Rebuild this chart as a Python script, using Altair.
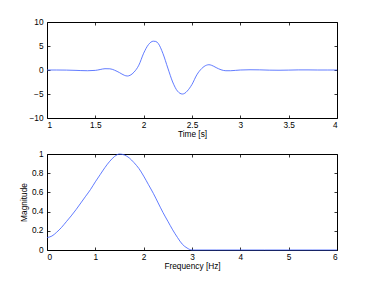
import altair as alt
import pandas as pd

# Top panel: time signal
time_s = [1.0, 1.1, 1.2, 1.3, 1.35, 1.42, 1.5, 1.55, 1.6, 1.65, 1.7, 1.75, 1.8, 1.83,
          1.86, 1.9, 1.95, 2.0, 2.05, 2.1, 2.125, 2.15, 2.2, 2.25, 2.3, 2.35, 2.4,
          2.425, 2.45, 2.5, 2.55, 2.6, 2.65, 2.675, 2.7, 2.75, 2.8, 2.85, 2.9, 2.95,
          3.0, 3.1, 3.2, 3.3, 3.4, 3.5, 3.6, 3.7, 3.8, 3.9, 4.0]
amplitude = [0.0, 0.0, -0.02, -0.08, -0.12, -0.15, -0.08, 0.1, 0.27, 0.25, -0.05, -0.55, -1.1, -1.25,
             -1.1, -0.45, 1.0, 3.5, 5.3, 6.0, 5.95, 5.55, 3.4, 0.4, -2.5, -4.4, -5.0,
             -4.85, -4.4, -3.0, -1.0, 0.3, 1.0, 1.1, 1.0, 0.5, 0.05, -0.15, -0.15, -0.08,
             0.0, 0.05, 0.03, -0.03, -0.05, -0.02, 0.02, 0.02, 0.0, 0.0, 0.0]

# Bottom panel: magnitude spectrum
freq_hz = [0.0, 0.1, 0.2, 0.3, 0.4, 0.5, 0.6, 0.7, 0.8, 0.9, 1.0, 1.1, 1.2, 1.3, 1.4,
           1.5, 1.6, 1.7, 1.8, 1.9, 2.0, 2.1, 2.2, 2.3, 2.4, 2.5, 2.6, 2.7, 2.8, 2.9,
           3.0, 3.5, 4.0, 4.5, 5.0, 5.5, 6.0]
magnitude = [0.13, 0.145, 0.185, 0.235, 0.295, 0.355, 0.42, 0.49, 0.56, 0.63, 0.71, 0.785,
             0.86, 0.925, 0.975, 1.0, 0.99, 0.96, 0.91, 0.85, 0.77, 0.68, 0.59, 0.49, 0.39,
             0.3, 0.21, 0.13, 0.06, 0.02, 0.0, 0.0, 0.0, 0.0, 0.0, 0.0, 0.0]

time_ticks = [1, 1.5, 2, 2.5, 3, 3.5, 4]
amp_ticks = [-10, -5, 0, 5, 10]
freq_ticks = [0, 1, 2, 3, 4, 5, 6]
mag_ticks = [0, 0.2, 0.4, 0.6, 0.8, 1]

FONT = "Liberation Sans"
FS = 8.3
LINE = "#3a5aff"


def panel(df, xf, yf, xdom, ydom, xticks, yticks, xtitle, ytitle):
    xs = alt.Scale(domain=xdom, nice=False, zero=False)
    ys = alt.Scale(domain=ydom, nice=False, zero=False)
    txt = dict(labelFont=FONT, labelFontSize=FS, labelColor="black",
               titleFont=FONT, titleFontSize=FS, titleFontWeight="normal",
               titleColor="black", grid=False, domain=False)
    base = alt.Chart(df)
    main = base.mark_line(color=LINE, strokeWidth=0.8, interpolate="monotone").encode(
        x=alt.X(f"{xf}:Q", scale=xs,
                axis=alt.Axis(orient="bottom", values=xticks, format="~r", ticks=False,
                              labelPadding=2, title=xtitle, titlePadding=1, **txt)),
        y=alt.Y(f"{yf}:Q", scale=ys,
                axis=alt.Axis(orient="left", values=yticks, format="~r", ticks=False,
                              labelPadding=4, title=ytitle, titlePadding=3, **txt)),
    )
    tick_kw = dict(labels=False, ticks=True, tickSize=3, offset=-3, tickColor="black",
                   tickWidth=0.8, title="", grid=False, domain=False)
    inner1 = base.mark_line(strokeOpacity=0).encode(
        x=alt.X(f"{xf}:Q", scale=xs, axis=alt.Axis(orient="bottom", values=xticks, **tick_kw)),
        y=alt.Y(f"{yf}:Q", scale=ys, axis=alt.Axis(orient="left", values=yticks, **tick_kw)),
    )
    inner2 = base.mark_line(strokeOpacity=0).encode(
        x=alt.X(f"{xf}:Q", scale=xs, axis=alt.Axis(orient="top", values=xticks, **tick_kw)),
        y=alt.Y(f"{yf}:Q", scale=ys, axis=alt.Axis(orient="right", values=yticks, **tick_kw)),
    )
    return alt.layer(main, inner1, inner2).resolve_axis(
        x="independent", y="independent").properties(width=290, height=96)


top_df = pd.DataFrame({"t": time_s, "a": amplitude})
bot_df = pd.DataFrame({"f": freq_hz, "m": magnitude})

top = panel(top_df, "t", "a", [1, 4], [-10, 10], time_ticks, amp_ticks, "Time [s]", "")
bottom = panel(bot_df, "f", "m", [0, 6], [0, 1], freq_ticks, mag_ticks, "Frequency [Hz]", "Magnitude")

chart = alt.vconcat(top, bottom, spacing=36, bounds="flush").properties(
    padding={"left": 10, "top": 8, "right": 5, "bottom": 5},
    background="white",
).configure_view(stroke="black", strokeWidth=1)

chart.save("out.html", embed_options={"renderer": "svg", "actions": False})
